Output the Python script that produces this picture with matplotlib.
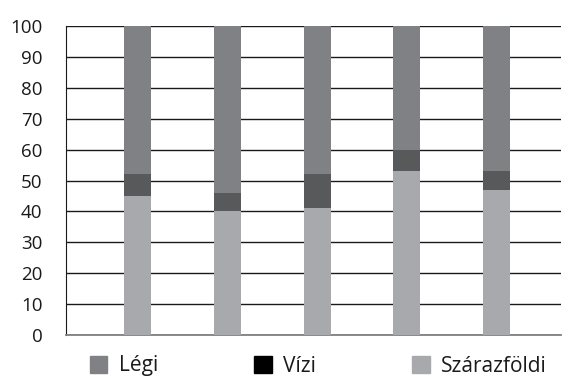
import numpy as np
import matplotlib.pyplot as plt
from matplotlib.patches import Patch

plt.rcParams['font.family'] = ['Open Sans', 'DejaVu Sans']

# adatok
kategoriak = ['1', '2', '3', '4', '5']
szarazfoldi = [45, 40, 41, 53, 47]
vizi = [7, 6, 11, 7, 6]
legi = [48, 54, 48, 40, 47]

c_legi = '#808184'
c_vizi = '#58595b'
c_szaraz = '#a7a9ac'

fig = plt.figure(figsize=(5.63, 3.80), dpi=100)
ax = fig.add_axes([66 / 563, 1 - 335 / 380, (561 - 66) / 563, (335 - 26) / 380])

x = np.arange(len(kategoriak))
w = 27 / 89.5
szaraz = np.array(szarazfoldi)
viz = np.array(vizi)
ax.bar(x, szaraz, width=w, color=c_szaraz, zorder=3)
ax.bar(x, viz, width=w, bottom=szaraz, color=c_vizi, zorder=3)
ax.bar(x, legi, width=w, bottom=szaraz + viz, color=c_legi, zorder=3)

ax.set_xlim(-0.8, 4.72)
ax.set_ylim(0, 100)
ax.set_yticks(range(0, 101, 10))
ax.set_xticks([])
ax.yaxis.grid(True, color='#1a1a1a', linewidth=1.0)
ax.set_axisbelow(True)
ax.tick_params(axis='y', length=0, pad=17, labelsize=13.5, colors='#1a1a1a')
for s in ['top', 'right']:
    ax.spines[s].set_visible(False)
ax.spines['left'].set_color('#1a1a1a')
ax.spines['bottom'].set_color('#808080')
ax.spines['bottom'].set_linewidth(1.3)

handles = [Patch(color=c_legi), Patch(color='black'), Patch(color=c_szaraz)]
fig.legend(handles, ['Légi', 'Vízi', 'Szárazföldi'], loc='center left',
           bbox_to_anchor=(71 / 563, 1 - 366 / 380), ncol=3, frameon=False,
           fontsize=15, handlelength=0.85, handleheight=0.85, handletextpad=0.55,
           columnspacing=4.6, labelcolor='#1a1a1a')

fig.savefig('out.png', dpi=100)
